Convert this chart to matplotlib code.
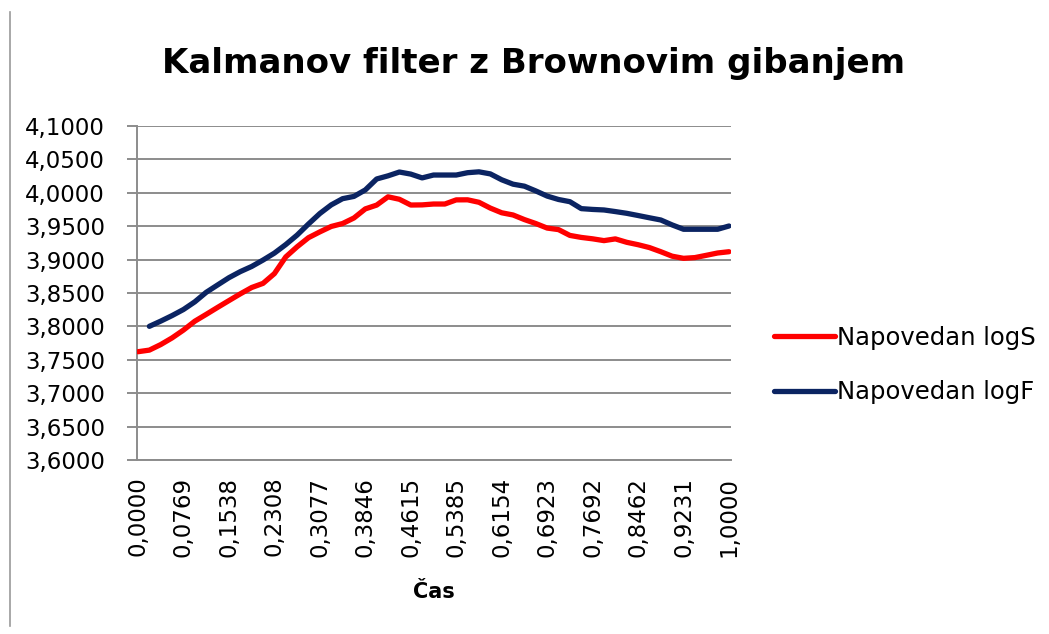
import numpy as np
import matplotlib
matplotlib.use("Agg")
import matplotlib.pyplot as plt
from matplotlib.lines import Line2D

# ---- data ----
n_points = 53
time_values = [k / 52 for k in range(n_points)]

log_s = [3.7621, 3.7645, 3.7728, 3.7828, 3.7945, 3.8078, 3.8180, 3.8284, 3.8386, 3.8487,
         3.8582, 3.8644, 3.8790, 3.9040, 3.9192, 3.9328, 3.9415, 3.9496, 3.9540, 3.9623,
         3.9759, 3.9816, 3.9940, 3.9903, 3.9817, 3.9819, 3.9832, 3.9832, 3.9894, 3.9895,
         3.9858, 3.9771, 3.9701, 3.9668, 3.9599, 3.9540, 3.9472, 3.9449, 3.9362, 3.9332,
         3.9311, 3.9284, 3.9310, 3.9259, 3.9223, 3.9180, 3.9118, 3.9051, 3.9019, 3.9030,
         3.9064, 3.9099, 3.9118]

log_f = [np.nan, 3.8001, 3.8079, 3.8162, 3.8253, 3.8368, 3.8510, 3.8620, 3.8729, 3.8820,
         3.8897, 3.8993, 3.9097, 3.9225, 3.9367, 3.9533, 3.9690, 3.9819, 3.9912, 3.9946,
         4.0043, 4.0207, 4.0254, 4.0311, 4.0280, 4.0223, 4.0266, 4.0266, 4.0266, 4.0301,
         4.0314, 4.0283, 4.0195, 4.0129, 4.0099, 4.0028, 3.9951, 3.9900, 3.9867, 3.9763,
         3.9751, 3.9743, 3.9719, 3.9693, 3.9660, 3.9626, 3.9593, 3.9519, 3.9454, 3.9454,
         3.9454, 3.9454, 3.9503]

x_tick_values = [k / 13 for k in range(14)]
x_tick_labels = ["0,0000", "0,0769", "0,1538", "0,2308", "0,3077", "0,3846", "0,4615",
                 "0,5385", "0,6154", "0,6923", "0,7692", "0,8462", "0,9231", "1,0000"]
y_tick_values = [3.60, 3.65, 3.70, 3.75, 3.80, 3.85, 3.90, 3.95, 4.00, 4.05, 4.10]
y_tick_labels = [f"{v:.4f}".replace(".", ",") for v in y_tick_values]

series_names = ["Napovedan logS", "Napovedan logF"]
series_colors = ["#ff0000", "#0b2462"]

title = "Kalmanov filter z Brownovim gibanjem"
x_label = "Čas"

# ---- figure ----
plt.rcParams['font.family'] = ['DejaVu Sans']
W, H = 1049, 634
fig = plt.figure(figsize=(W / 100, H / 100), dpi=100)
ax_left, ax_right, ax_top, ax_bottom = 137, 731, 126, 460
ax = fig.add_axes([ax_left / W, 1 - ax_bottom / H, (ax_right - ax_left) / W, (ax_bottom - ax_top) / H])

grid_c = "#8c8c8c"
for v in y_tick_values:
    ax.axhline(v, color=grid_c, lw=1.4, zorder=1)

ax.plot(time_values, log_s, color=series_colors[0], lw=3.8, solid_capstyle='round',
        solid_joinstyle='round', label=series_names[0], zorder=3)
ax.plot(time_values, log_f, color=series_colors[1], lw=3.8, solid_capstyle='round',
        solid_joinstyle='round', label=series_names[1], zorder=3)

ax.set_xlim(-1 / 590, 1 + 2 / 590)
ax.set_ylim(3.6, 4.1)

for s in ["top", "right"]:
    ax.spines[s].set_visible(False)
ax.spines["left"].set_color(grid_c)
ax.spines["left"].set_linewidth(1.4)
ax.spines["bottom"].set_color(grid_c)
ax.spines["bottom"].set_linewidth(1.4)

ax.set_yticks(y_tick_values)
ax.set_yticklabels(y_tick_labels, fontsize=16.5)
ax.tick_params(axis='y', length=7, width=1.4, color=grid_c, pad=16)
ax.set_xticks(x_tick_values)
ax.set_xticklabels(x_tick_labels, rotation=90, fontsize=16.5)
ax.tick_params(axis='x', length=0, pad=12)

ax.set_xlabel(x_label, fontsize=15, fontweight='bold', labelpad=18)

fig.text(534 / W, 1 - 63 / H, title, fontsize=24.5, fontweight='bold',
         ha='center', va='center')

leg = ax.legend(loc='center left', bbox_to_anchor=(774 / W, 1 - 365 / H), bbox_transform=fig.transFigure,
                frameon=False, fontsize=17.5, handlelength=2.5, handletextpad=0.1, labelspacing=1.25,
                borderpad=0, borderaxespad=0)

fig.add_artist(Line2D([10 / W, 10 / W], [1 - 12 / H, 1 - 626 / H], color="#9a9a9a", lw=1.2))

fig.savefig("out.png", dpi=100)
